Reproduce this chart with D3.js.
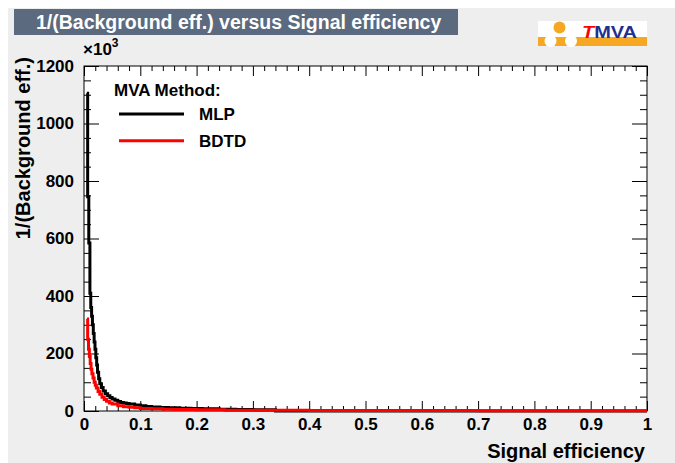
<!DOCTYPE html>
<html>
<head>
<meta charset="utf-8">
<style>
    body { margin: 0; background: #fff; }
    svg { display: block; font-family: 'Liberation Sans', Arial, sans-serif; font-weight: bold; }
</style>
</head>
<body>
<svg width="675" height="463"></svg>
<script src="https://d3js.org/d3.v7.min.js"></script>
<script>
    // signal efficiency (bin low edge) and 1/(background eff.) for each method
    let mlpEff = [0.005, 0.0065, 0.0085, 0.0105, 0.012, 0.0135, 0.015, 0.0165, 0.018, 0.0195,
        0.021, 0.0225, 0.024, 0.026, 0.028, 0.031, 0.034, 0.038, 0.042, 0.046,
        0.05, 0.055, 0.06, 0.065, 0.07, 0.075, 0.08, 0.09, 0.1, 0.11,
        0.12, 0.135, 0.15, 0.17, 0.19, 0.21, 0.24, 0.27, 0.3, 0.34]
    let mlpVal = [1105, 745, 584, 410, 360, 330, 300, 270, 240, 215,
        185, 160, 135, 112, 95, 82, 70, 60, 53, 47,
        42, 37, 33, 30, 28, 26, 24, 21, 18, 16,
        14, 12.5, 11, 9.5, 8.5, 7.5, 6.5, 5.5, 4.5, 0]

    let bdtdEff = [0.005, 0.0065, 0.008, 0.0095, 0.011, 0.0125, 0.014, 0.016, 0.018, 0.02,
        0.022, 0.025, 0.028, 0.032, 0.036, 0.04, 0.045, 0.05, 0.06, 0.07,
        0.08, 0.09, 0.1, 0.12, 0.14, 0.16, 0.2, 0.25, 0.3, 0.4,
        0.5, 0.7, 0.9]
    let bdtdVal = [320, 250, 215, 190, 165, 145, 130, 115, 100, 90,
        80, 68, 58, 48, 40, 34, 28, 24, 18, 15,
        13, 11, 9, 7.5, 6, 5, 4, 3, 2.5, 2,
        1.5, 1, 0.8]

    let methods = ["MLP", "BDTD"]
    let methodColors = ["#000000", "#ff0000"]

    let xMajor = [0, 0.1, 0.2, 0.3, 0.4, 0.5, 0.6, 0.7, 0.8, 0.9, 1]
    let xTickLabels = ["0", "0.1", "0.2", "0.3", "0.4", "0.5", "0.6", "0.7", "0.8", "0.9", "1"]
    let yMajor = [0, 200, 400, 600, 800, 1000, 1200]
    let yTickLabels = ["0", "200", "400", "600", "800", "1000", "1200"]

    let svg = d3.select("svg")

    // canvas
    svg.append("rect").attr("x", 8).attr("y", 8).attr("width", 667).attr("height", 455)
        .style("fill", "#eeeeee")

    // title box
    svg.append("rect").attr("x", 14).attr("y", 9).attr("width", 444).attr("height", 26)
        .style("fill", "#5b6a7e")
    svg.append("text").attr("x", 36).attr("y", 29)
        .style("fill", "white").style("font-size", "19.5px")
        .text("1/(Background eff.) versus Signal efficiency")

    // TMVA logo
    let logo = svg.append("g")
    logo.append("rect").attr("x", 538).attr("y", 21).attr("width", 109).attr("height", 25).style("fill", "white")
    logo.append("rect").attr("x", 538).attr("y", 37).attr("width", 109).attr("height", 9).style("fill", "#f7a823")
    logo.append("circle").attr("cx", 559.5).attr("cy", 27.5).attr("r", 6).style("fill", "#f7a823")
    logo.append("circle").attr("cx", 550.5).attr("cy", 41).attr("r", 6).style("fill", "white")
    logo.append("circle").attr("cx", 571).attr("cy", 41).attr("r", 6).style("fill", "white")
    let logoText = logo.append("text").attr("x", 582).attr("y", 38)
        .style("font-size", "16px")
        .attr("textLength", 55).attr("lengthAdjust", "spacingAndGlyphs")
    logoText.append("tspan").text("T").style("fill", "#ff0000").style("font-style", "italic")
    logoText.append("tspan").text("MVA").style("fill", "#1f2f8f")

    let pLeft = 84, pRight = 647, pTop = 66, pBottom = 411

    let x = d3.scaleLinear().domain([0, 1]).range([pLeft, pRight])
    let y = d3.scaleLinear().domain([0, 1200]).range([pBottom, pTop])

    svg.append("rect").attr("x", pLeft).attr("y", pTop)
        .attr("width", pRight - pLeft).attr("height", pBottom - pTop)
        .style("fill", "white")

    let xMinor = d3.range(0, 1.0001, 0.02).filter(v => Math.abs(v * 10 - Math.round(v * 10)) > 1e-6)
    let yMinor = d3.range(0, 1201, 50).filter(v => v % 200 != 0)

    function drawAxis(axis, tx, ty, labels) {
        let g = svg.append("g")
            .attr("transform", "translate(" + tx + "," + ty + ")")
            .call(axis)
        g.select(".domain").remove()
        g.selectAll("line").style("stroke", "#000")
        g.selectAll("text").style("font-size", "17px").style("fill", "#000")
            .style("font-family", "'Liberation Sans', Arial, sans-serif")
        if (!labels) g.selectAll("text").remove()
        return g
    }

    // bottom / top
    drawAxis(d3.axisBottom(x).tickValues(xMajor).tickSize(-10).tickPadding(7)
        .tickFormat((d, i) => xTickLabels[i]), 0, pBottom, true)
    drawAxis(d3.axisBottom(x).tickValues(xMinor).tickSize(-5), 0, pBottom, false)
    drawAxis(d3.axisTop(x).tickValues(xMajor).tickSize(-10), 0, pTop, false)
    drawAxis(d3.axisTop(x).tickValues(xMinor).tickSize(-5), 0, pTop, false)

    // left / right
    drawAxis(d3.axisLeft(y).tickValues(yMajor).tickSize(-15).tickPadding(10)
        .tickFormat((d, i) => yTickLabels[i]), pLeft, 0, true)
    drawAxis(d3.axisLeft(y).tickValues(yMinor).tickSize(-7), pLeft, 0, false)
    drawAxis(d3.axisRight(y).tickValues(yMajor).tickSize(-15), pRight, 0, false)
    drawAxis(d3.axisRight(y).tickValues(yMinor).tickSize(-7), pRight, 0, false)

    // frame
    svg.append("rect").attr("x", pLeft).attr("y", pTop)
        .attr("width", pRight - pLeft).attr("height", pBottom - pTop)
        .style("fill", "none").style("stroke", "#000").style("stroke-width", 1)

    // exponent
    let expo = svg.append("text").attr("x", 83).attr("y", 55).style("font-size", "17px")
    expo.append("tspan").text("\u00d710")
    expo.append("tspan").text("3").attr("dy", -8).style("font-size", "12px")

    // axis titles
    svg.append("text").attr("x", 645).attr("y", 458).attr("text-anchor", "end")
        .style("font-size", "20px").text("Signal efficiency")
    svg.append("text").attr("transform", "translate(30,57) rotate(-90)").attr("text-anchor", "end")
        .style("font-size", "20px").text("1/(Background eff.)")

    // curves
    let line = d3.line().x(d => x(d[0])).y(d => y(d[1])).curve(d3.curveStepAfter)

    let series = [
        mlpEff.map((e, i) => [e, mlpVal[i]]).concat([[1, 0]]),
        bdtdEff.map((e, i) => [e, bdtdVal[i]]).concat([[1, bdtdVal[bdtdVal.length - 1]]])
    ]

    svg.selectAll(".curve")
        .data(series)
        .join("path")
        .attr("class", "curve")
        .attr("d", line)
        .style("fill", "none")
        .style("stroke", (d, i) => methodColors[i])
        .style("stroke-width", 3)

    // legend
    svg.append("text").attr("x", 114).attr("y", 96).style("font-size", "17px").text("MVA Method:")
    let legend = svg.selectAll(".legend")
        .data(methods)
        .join("g")
        .attr("class", "legend")
        .attr("transform", (d, i) => "translate(0," + (114 + i * 26.7) + ")")
    legend.append("line").attr("x1", 119).attr("x2", 184)
        .style("stroke", (d, i) => methodColors[i]).style("stroke-width", 3)
    legend.append("text").attr("x", 199).attr("y", 6).style("font-size", "17px").text(d => d)
</script>
</body>
</html>
